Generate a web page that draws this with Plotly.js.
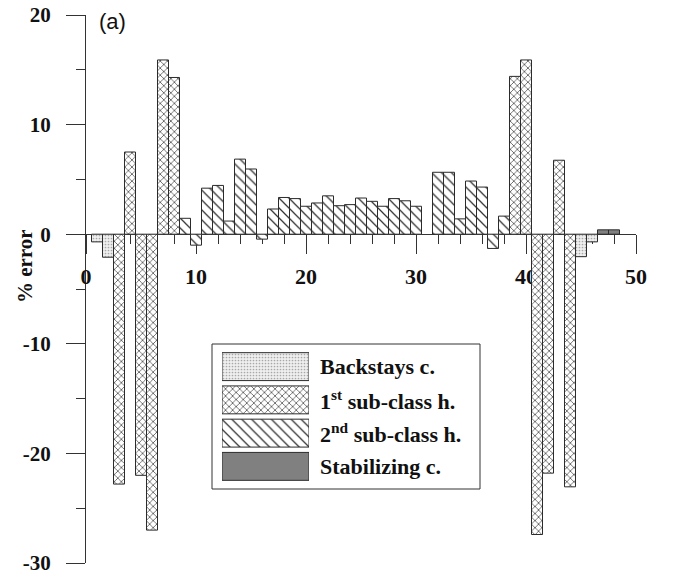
<!DOCTYPE html>
<html>
<head>
<meta charset="utf-8">
<script src="https://cdn.plot.ly/plotly-3.0.1.min.js"></script>
<style>html,body{margin:0;padding:0;background:#fff;}#chart{width:676px;height:577px;}</style>
</head>
<body>
<div id="chart"></div>
<script>
// ---- data ----
const seriesNames = ["Backstays c.", "1<sup>st</sup> sub-class h.", "2<sup>nd</sup> sub-class h.", "Stabilizing c."];

const backstaysX = [1, 2, 45, 46];
const backstaysY = [-0.7, -2.1, -2.05, -0.7];

const firstSubX = [3, 4, 5, 6, 7, 8, 39, 40, 41, 42, 43, 44];
const firstSubY = [-22.8, 7.5, -22.0, -27.0, 15.9, 14.3, 14.4, 15.9, -27.4, -21.8, 6.75, -23.05];

const secondSubX = [9, 10, 11, 12, 13, 14, 15, 16, 17, 18, 19, 20, 21, 22, 23, 24, 25, 26, 27, 28, 29, 30,
                    32, 33, 34, 35, 36, 37, 38];
const secondSubY = [1.45, -1.0, 4.2, 4.45, 1.2, 6.85, 5.95, -0.45, 2.3, 3.35, 3.25, 2.55, 2.85, 3.5, 2.6, 2.7, 3.3, 3.0, 2.55, 3.25, 3.05, 2.55,
                    5.65, 5.65, 1.4, 4.85, 4.3, -1.3, 1.65];

const stabX = [47, 48];
const stabY = [0.4, 0.4];

const yTickVals = [-30, -20, -10, 0, 10, 20];
const yTickText = ["-30", "-20", "-10", "0", "10", "20"];
const yMinorVals = [-25, -15, -5, 5, 15];
const xTickVals = [0, 10, 20, 30, 40, 50];
const xTickText = ["0", "10", "20", "30", "40", "50"];

// ---- styles ----
const outline = {color: "#2b2b2b", width: 1};
const styles = [
  {color: "#eeeeee", pattern: {shape: ".", fgcolor: "#a8a8a8", bgcolor: "#efefef", size: 3, solidity: 0.25}},
  {color: "#ffffff", pattern: {shape: "x", fgcolor: "#5a5a5a", bgcolor: "#ffffff", size: 5, solidity: 0.3}},
  {color: "#ffffff", pattern: {shape: "\\", fgcolor: "#333333", bgcolor: "#ffffff", size: 7, solidity: 0.18}},
  {color: "#808080"}
];
const xs = [backstaysX, firstSubX, secondSubX, stabX];
const ys = [backstaysY, firstSubY, secondSubY, stabY];

const traces = [];
for (let i = 0; i < 4; i++) {
  traces.push({
    type: "bar", x: xs[i], y: ys[i], width: 1, name: seriesNames[i], showlegend: false,
    marker: Object.assign({line: outline}, styles[i]), hoverinfo: "x+y"
  });
}
// legend swatches drawn as bars on a hidden small subplot
for (let i = 0; i < 4; i++) {
  traces.push({
    type: "bar", orientation: "h", x: [1], y: [i], width: 0.84, xaxis: "x2", yaxis: "y2",
    showlegend: false, cliponaxis: false, hoverinfo: "skip",
    marker: Object.assign({line: outline}, styles[i])
  });
}

const tickFont = {family: "Liberation Serif, Times New Roman, serif", size: 22, color: "#111", weight: "bold"};
const axColor = "#333";

const L = 86, T = 15, W = 550, H = 548;
const px = v => (v - L) / W;
const py = v => (T + H - v) / H;

const layout = {
  width: 676, height: 577,
  margin: {l: L, r: 676 - L - W, t: T, b: 577 - T - H, pad: 0},
  paper_bgcolor: "#fff", plot_bgcolor: "#fff",
  barmode: "overlay", bargap: 0,
  showlegend: false,
  xaxis: {
    range: [0, 50], anchor: "free", position: 0.6,
    tickmode: "array", tickvals: xTickVals, ticktext: xTickText,
    ticks: "outside", ticklen: 19, tickwidth: 1, tickcolor: axColor,
    minor: {dtick: 2, tick0: 0, ticks: "outside", ticklen: 9, tickwidth: 1, tickcolor: axColor},
    showline: true, linecolor: axColor, linewidth: 1,
    showgrid: false, zeroline: false, layer: "below traces",
    tickfont: tickFont, ticklabelstandoff: 3, fixedrange: true
  },
  yaxis: {
    range: [-30, 20], domain: [0, 1],
    tickmode: "array", tickvals: yTickVals, ticktext: yTickText,
    ticks: "outside", ticklen: 19, tickwidth: 1, tickcolor: axColor,
    minor: {tickmode: "array", tickvals: yMinorVals, ticks: "outside", ticklen: 9, tickwidth: 1, tickcolor: axColor},
    showline: true, linecolor: axColor, linewidth: 1,
    showgrid: false, zeroline: false, layer: "below traces",
    tickfont: Object.assign({}, tickFont, {size: 21}), ticklabelstandoff: 11, fixedrange: true
  },
  xaxis2: {domain: [px(222), px(309)], range: [0, 1], visible: false, anchor: "y2", fixedrange: true},
  yaxis2: {domain: [py(483), py(350)], range: [3.5, -0.5], visible: false, anchor: "x2", fixedrange: true},
  shapes: [
    {type: "rect", xref: "paper", yref: "paper", x0: px(212), x1: px(480), y0: py(489), y1: py(344),
     line: {color: "#333", width: 1}, fillcolor: "rgba(0,0,0,0)", layer: "below"}
  ],
  annotations: [
    {text: "(a)", xref: "paper", yref: "paper", x: px(97), y: py(21), xanchor: "left", yanchor: "middle",
     showarrow: false, font: {family: "Liberation Sans, Arial, sans-serif", size: 22, color: "#111"}},
    {text: "% error", xref: "paper", yref: "paper", x: px(25), y: py(266), xanchor: "center", yanchor: "middle",
     textangle: -90, showarrow: false, font: {family: "Liberation Serif, Times New Roman, serif", size: 21, color: "#111", weight: "bold"}}
  ]
};
for (let i = 0; i < 4; i++) {
  layout.annotations.push({
    text: seriesNames[i], xref: "paper", yref: "y2", x: px(318), y: i, xanchor: "left", yanchor: "middle",
    showarrow: false, font: {family: "Liberation Serif, Times New Roman, serif", size: 22, color: "#111", weight: "bold"}
  });
}

Plotly.newPlot("chart", traces, layout, {displayModeBar: false, staticPlot: true});
</script>
</body>
</html>
